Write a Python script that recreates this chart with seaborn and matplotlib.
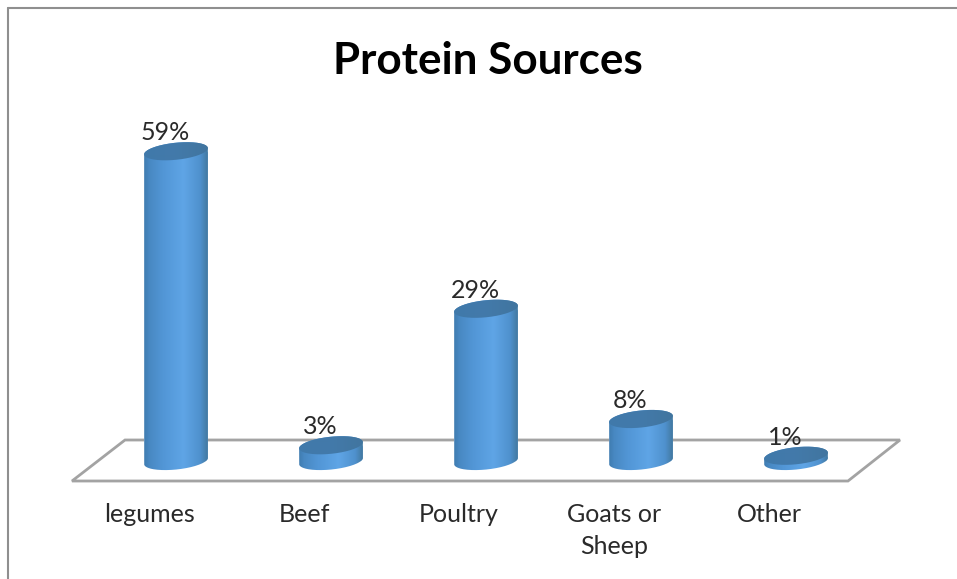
import numpy as np
import pandas as pd
import matplotlib
matplotlib.use("Agg")
import matplotlib.pyplot as plt
from matplotlib.colors import LinearSegmentedColormap
from matplotlib.lines import Line2D
from matplotlib.patches import PathPatch, Polygon
from matplotlib.path import Path
from matplotlib.transforms import IdentityTransform
import seaborn as sns

categories = ["legumes", "Beef", "Poultry", "Goats or\nSheep", "Other"]
shares = [59, 3, 29, 8, 1]
value_labels = ["59%", "3%", "29%", "8%", "1%"]
chart_title = "Protein Sources"

sns.set_theme(style="white")
plt.rcParams["font.family"] = ["Lato", "DejaVu Sans"]

W, H = 957, 579
fig = plt.figure(figsize=(W / 100, H / 100), dpi=100, facecolor="white")
ax = fig.add_axes([0, 0, 1, 1])

df = pd.DataFrame({"source": categories, "share": shares})
sns.barplot(data=df, x="source", y="share", color="#4a8ccb", width=64 / 155,
            saturation=1, ax=ax, zorder=3)

# One category step is 155 px and one percent is 5.25 px; the baseline sits 461 px down.
ax.set_xlim(-176 / 155, (W - 176) / 155)
ax.set_ylim((461 - H) / 5.25, 461 / 5.25)
ax.axis("off")


def px(x, y):
    """Point given in top-left pixel terms, in display coordinates."""
    return (x, H - y)


# Frame along the top and left edges
for xs, ys in [((8, W), (8, 8)), ((8, 8), (8, H))]:
    fig.add_artist(Line2D(np.array(xs) / W, 1 - np.array(ys) / H,
                          color="#8f8f8f", lw=1.5, transform=fig.transFigure))

# Floor of the 3D plot
floor = [px(72, 481), px(848, 481), px(900, 440), px(125, 440)]
ax.add_patch(Polygon(floor, closed=True, fill=False, edgecolor="#a3a3a3", lw=2,
                     transform=IdentityTransform(), zorder=1, clip_on=False))

body_cmap = LinearSegmentedColormap.from_list(
    "cyl", [(0, "#3f7cb0"), (0.08, "#4888c2"), (0.3, "#5296d6"), (0.62, "#5fa5e6"),
            (0.88, "#4f91cd"), (1, "#42789f")])
cap_cmap = LinearSegmentedColormap.from_list(
    "cap", ["#4079aa", "#437aaa", "#41759f"])
ramp = np.linspace(0, 1, 256).reshape(1, -1)

half_w, half_h, tilt = 32.0, 8.5, np.radians(6)


def ellipse_points(cx, cy, t):
    ex = half_w * np.cos(t)
    ey = half_h * np.sin(t)
    return (cx + ex * np.cos(tilt) - ey * np.sin(tilt),
            cy + ex * np.sin(tilt) + ey * np.cos(tilt))


for bar, label in zip(ax.patches, value_labels):
    centre = bar.get_x() + bar.get_width() / 2
    value = bar.get_height()
    cx, cy_base = ax.transData.transform((centre, 0))
    _, cy_top = ax.transData.transform((centre, value))

    # Cylinder wall: upper half of the top rim joined to the lower half of the base rim
    t_up = np.linspace(0, np.pi, 80)
    t_down = np.linspace(np.pi, 2 * np.pi, 80)
    top_x, top_y = ellipse_points(cx, cy_top, t_up)
    base_x, base_y = ellipse_points(cx, cy_base, t_down)
    outline = np.column_stack([np.r_[top_x, base_x], np.r_[top_y, base_y]])
    wall = PathPatch(Path(np.vstack([outline, outline[:1]])),
                     transform=IdentityTransform(), fc="none", ec="none")
    ax.add_patch(wall)
    bar.set_clip_path(wall)

    x0, x1 = bar.get_x(), bar.get_x() + bar.get_width()
    y_low = ax.transData.inverted().transform((cx, cy_base - 12))[1]
    y_high = ax.transData.inverted().transform((cx, cy_top + 12))[1]
    img = ax.imshow(ramp, cmap=body_cmap, extent=(x0, x1, y_low, y_high),
                    aspect="auto", zorder=4, interpolation="bilinear")
    img.set_clip_path(wall)

    # Top cap
    t_all = np.linspace(0, 2 * np.pi, 160)
    rim = np.column_stack(ellipse_points(cx, cy_top, t_all))
    cap = PathPatch(Path(rim), transform=IdentityTransform(), fc="none", ec="none")
    ax.add_patch(cap)
    cap_img = ax.imshow(ramp, cmap=cap_cmap, extent=(x0, x1, y_low, y_high),
                        aspect="auto", zorder=5, interpolation="bilinear")
    cap_img.set_clip_path(cap)

    ax.annotate(label, xy=(centre, value), xytext=(-10.5, 7),
                textcoords="offset pixels", ha="center", va="bottom",
                fontsize=18, color="#2a2a2a", zorder=6)

ax.set_xlim(-176 / 155, (W - 176) / 155)
ax.set_ylim((461 - H) / 5.25, 461 / 5.25)

# Category labels under the floor, with the first line at a common height
for i, name in enumerate(categories):
    ax.text(i - 27 / 155, (461 - 503) / 5.25, name, ha="center", va="top",
            fontsize=18, color="#2a2a2a", linespacing=1.5)

fig.text(487.5 / W, 1 - 61 / H, chart_title, ha="center", va="center",
         fontsize=31.7, fontweight="bold", color="black")

fig.savefig("out.png", dpi=100)
